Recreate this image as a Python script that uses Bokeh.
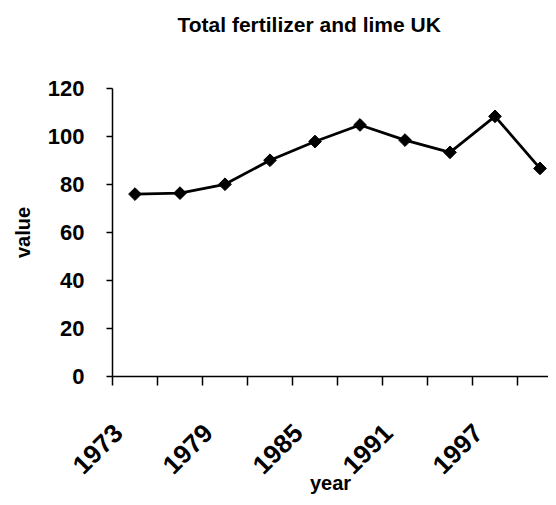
import math
from bokeh.plotting import figure
from bokeh.models import Range1d, FixedTicker, ColumnDataSource, Title
from bokeh.embed import file_html
from bokeh.resources import INLINE

years = [1973, 1976, 1979, 1982, 1985, 1988, 1991, 1994, 1997, 2000]
values = [76.0, 76.4, 80.1, 90.1, 97.9, 104.8, 98.5, 93.4, 108.4, 86.7]
y_ticks = [0, 20, 40, 60, 80, 100, 120]
label_every = 2

idx = list(range(len(years)))
src = ColumnDataSource(dict(x=idx, y=values))

FONT = "Liberation Sans"

p = figure(width=548, height=497, output_backend="svg", toolbar_location=None,
           x_range=Range1d(-0.5, -0.5 + 436 / 45), y_range=Range1d(0, 120),
           min_border_left=112, min_border_right=0, min_border_top=88, min_border_bottom=118)
p.outline_line_color = None
p.xgrid.visible = False
p.ygrid.visible = False
p.background_fill_color = "white"
p.border_fill_color = "white"

p.line("x", "y", source=src, line_color="black", line_width=2.8)
p.scatter("x", "y", source=src, marker="square", angle=math.pi / 4, size=9,
          fill_color="black", line_color="black")

# x axis: tick marks at category boundaries, labels under categories
xa = p.xaxis[0]
label_idx = idx[::label_every]
label_pos = [i - 0.375 for i in label_idx]
xa.ticker = FixedTicker(ticks=label_pos, minor_ticks=[i - 0.5 for i in idx] + [idx[-1] + 0.5])
xa.major_label_overrides = {pos: str(years[i]) for pos, i in zip(label_pos, label_idx)}
xa.major_tick_out = 0
xa.major_tick_in = 0
xa.minor_tick_out = 9
xa.minor_tick_in = 0
xa.minor_tick_line_color = "black"
xa.minor_tick_line_width = 1.5
xa.axis_line_width = 1.5
xa.axis_line_color = "black"
xa.major_label_orientation = math.pi / 4
xa.major_label_text_font = FONT
xa.major_label_text_font_style = "bold"
xa.major_label_text_font_size = "26px"
xa.major_label_text_color = "black"
xa.major_label_standoff = 43
xa.axis_label = "year"
xa.axis_label_text_font = FONT
xa.axis_label_text_font_style = "bold"
xa.axis_label_text_font_size = "20px"
xa.axis_label_text_color = "black"
xa.axis_label_text_line_height = 0.3
xa.axis_label_standoff = -13

# y axis
ya = p.yaxis[0]
ya.ticker = FixedTicker(ticks=y_ticks)
ya.minor_tick_out = 0
ya.minor_tick_in = 0
ya.major_tick_out = 6
ya.major_tick_in = 0
ya.major_tick_line_width = 1.5
ya.axis_line_width = 1.5
ya.axis_line_color = "black"
ya.major_label_text_font = FONT
ya.major_label_text_font_style = "bold"
ya.major_label_text_font_size = "22px"
ya.major_label_text_color = "black"
ya.major_label_standoff = 22
ya.axis_label = "value"
ya.axis_label_text_font = FONT
ya.axis_label_text_font_style = "bold"
ya.axis_label_text_font_size = "20px"
ya.axis_label_text_color = "black"
ya.axis_label_standoff = 11

# blank spacer panel next to the frame, then the title outside it
spacer = Title(text=" ", text_font=FONT, text_font_size="10px", standoff=40)
p.add_layout(spacer, "above")

title = Title(text="Total fertilizer and lime UK", text_font=FONT,
              text_font_style="bold", text_font_size="21px", text_color="black",
              align="left", offset=65, standoff=0)
p.add_layout(title, "above")

open("out.html", "w").write(file_html(p, INLINE))
